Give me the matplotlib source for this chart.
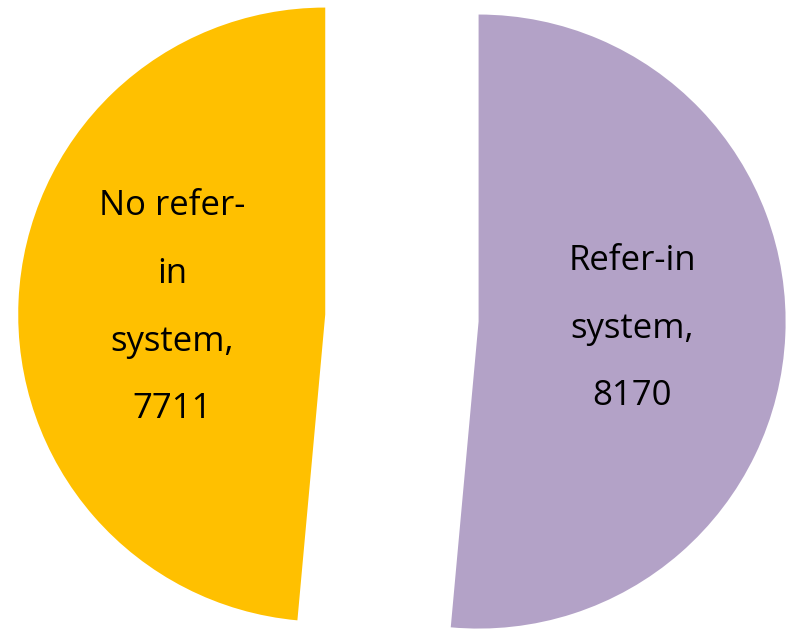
import matplotlib.pyplot as plt

# datos del grafico
categorias = ["Refer-in\nsystem,\n8170", "No refer-\nin\nsystem,\n7711"]
valores = [8170, 7711]
colores = ["#B3A2C7", "#FFC000"]

fig = plt.figure(figsize=(7.94, 6.3), dpi=100)
ax = fig.add_axes([0, 0, 1, 1])

wedges, textos = ax.pie(
    valores,
    labels=categorias,
    colors=colores,
    startangle=90,
    counterclock=False,
    explode=[0.25, 0.25],
    radius=1.0,
    labeldistance=0.5,
)

for t in textos:
    t.set_ha("center")
    t.set_va("center")
    t.set_multialignment("center")
    t.set_fontsize(25)
    t.set_fontfamily("Open Sans")
    t.set_linespacing(2.3)

ax.set_aspect("equal")
ax.set_xlim(-1.309, 1.277)
ax.set_ylim(-1.016, 1.036)
ax.axis("off")

fig.savefig("out.png", dpi=100)
